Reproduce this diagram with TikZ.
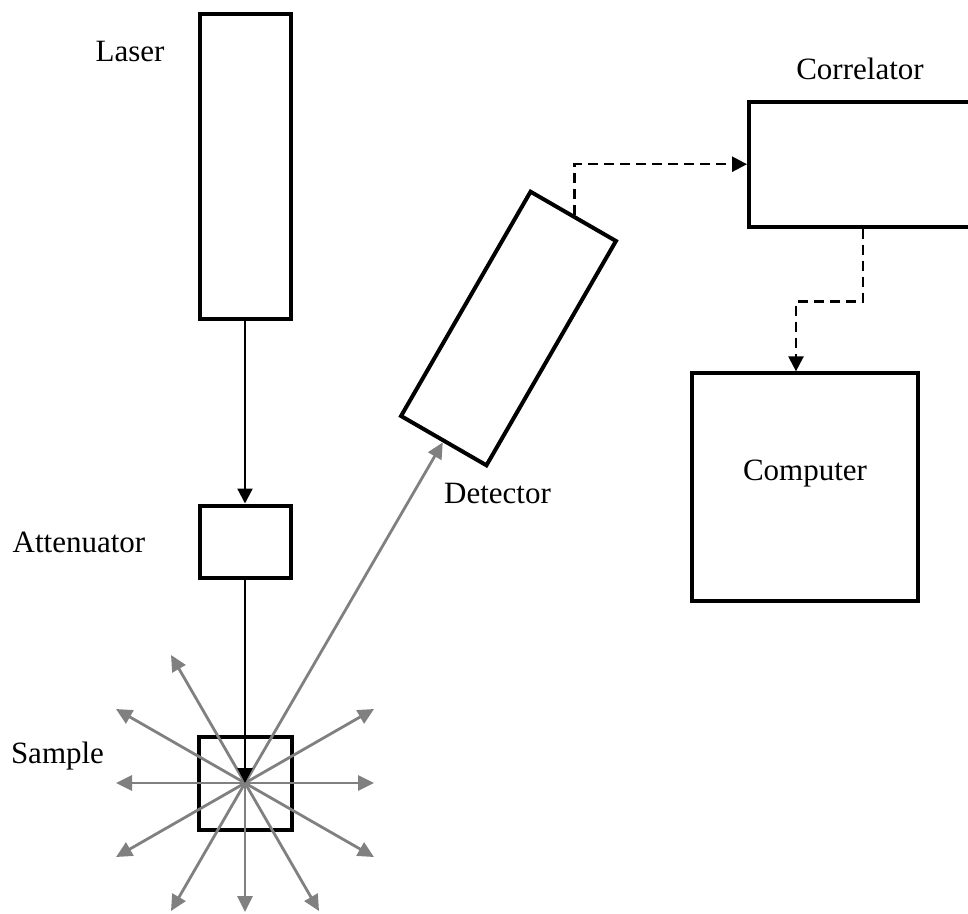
\documentclass[tikz,border=0pt]{standalone}
\usepackage{fontspec}
\setmainfont{Liberation Serif}
\usetikzlibrary{arrows.meta}
\definecolor{raygray}{HTML}{808080}
\begin{document}
\begin{tikzpicture}[x=1pt,y=-1pt,
  box/.style={draw=black, line width=4pt, fill=none, inner sep=0pt, rectangle},
  lbl/.style={font=\fontsize{31}{37}\selectfont, inner sep=0pt, anchor=base},
  beam/.style={draw=black, line width=2.2pt, -{Triangle[length=15pt,width=15pt]}},
  ray/.style={draw=raygray, line width=2.8pt, -{Triangle[length=16pt,width=15pt]}},
  signal/.style={draw=black, line width=2.5pt, dash pattern=on 10pt off 6pt, -{Triangle[length=15pt,width=15pt]}}
]
\useasboundingbox (0,0) rectangle (968,913);

% boxes
\node[box, minimum width=91pt, minimum height=305pt] (L) at (245,166) {};
\node[box, minimum width=91pt, minimum height=72pt] (A) at (245,541.5) {};
\node[box, minimum width=93pt, minimum height=93pt] (S) at (245.5,783.3) {};
\node[box, minimum width=98.6pt, minimum height=259pt, rotate=-30] (D) at (508.5,328.5) {};
\node[box, minimum width=228pt, minimum height=125pt] (C) at (863,164.2) {};
\node[box, minimum width=226.6pt, minimum height=227.3pt] (P) at (805,487) {};

% labels
\node[lbl] (tL) at (130,61) {Laser};
\node[lbl] (tA) at (79,552) {Attenuator};
\node[lbl] (tS) at (57.5,763) {Sample};
\node[lbl] (tD) at (497.5,503) {Detector};
\node[lbl] (tC) at (860,79.5) {Correlator};
\node[lbl] (tP) at (805,480) {Computer};

% scattered rays
\coordinate (O) at (245,783);
\foreach \dx/\dy in {-74/-128, -129/-74, 129/-74, -129/0, 129/0, -129/74, 129/74, -74/128, 0/129, 74/128}{
  \draw[ray] (O) -- ++(\dx,\dy);
}
\draw[ray] (O) -- (D.south);

% beam
\draw[beam] (L.south) -- (A.north);
\draw[beam] (A.south) -- (O);

% signals
\draw[signal] (D.north) |- (C.west);
\draw[signal] (C.south) -- ++(0,73) -| ([xshift=-9pt]P.north);
\end{tikzpicture}
\end{document}
